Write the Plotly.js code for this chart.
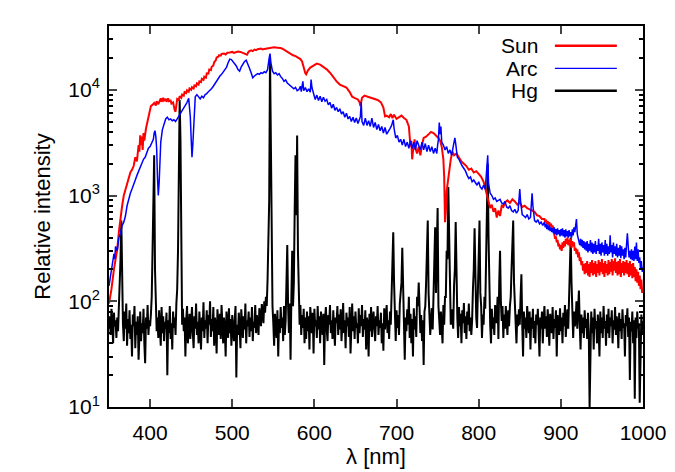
<!DOCTYPE html>
<html><head><meta charset="utf-8">
<script src="https://cdn.plot.ly/plotly-3.0.1.min.js"></script>
<style>html,body{margin:0;padding:0;background:#fff}#chart{width:675px;height:472px}</style>
</head><body><div id="chart"></div>
<script>
// Sun spectrum [wavelength nm, relative intensity]
const sun = [
[350,95],[353,130],[356,200],[358,240],[360,310],[362,450],[364,620],[366,800],[368,1000],[370,1150],
[372,1250],[374,1500],[376,1650],[378,1750],[380,1900],[382,2300],[384,2100],[386,3000],[387,2600],[388,3700],
[389,3000],[390,3600],[391,2700],[392,3900],[393,3300],[395,4300],[397,5200],[399,6300],[401,7000],[403,7200],
[405,7500],[407,7100],[408,7800],[410,7300],[411,7600],[413,8300],[414,7700],[416,8400],[417,7900],[419,8200],
[420,7700],[422,8300],[423,7800],[425,7900],[426,7400],[428,7600],[430,6400],[431,6200],[433,8200],[435,8000],
[436,8700],[438,8400],[439,9000],[441,8800],[442,9500],[444,9300],[445,9900],[447,9600],[448,10300],[450,10000],
[451,10600],[453,10300],[454,11000],[456,10800],[457,11500],[459,11200],[460,12000],[462,11800],[463,12700],[465,12400],
[466,13300],[468,13000],[469,14300],[471,14200],[472,15500],[474,15300],[475,16500],[477,17000],[478,18200],[480,19000],
[481,20200],[483,20500],[484,21200],[486,21000],[487,21800],[490,22000],[492,21600],[494,22400],[497,22500],[500,22800],
[502,22300],[504,22700],[507,23000],[510,22800],[513,22400],[516,21800],[518,21500],[520,23000],[523,23600],[525,23200],
[527,24000],[529,23700],[531,24200],[535,24500],[537,24100],[539,24300],[543,24700],[547,25000],[551,25200],[555,25000],
[559,24800],[562,24200],[565,23400],[568,22600],[571,21800],[574,21200],[577,20800],[580,20200],[583,19500],[585,18500],
[587,16000],[589,14300],[590,14000],[592,15200],[595,16200],[599,17000],[603,17700],[607,17300],[611,16500],[615,15600],
[619,14500],[623,13000],[627,12000],[631,11200],[635,10800],[639,10500],[643,9500],[646,8600],[650,8300],[653,8100],
[655,7600],[656,7000],[658,8400],[661,8800],[665,8600],[669,8400],[673,8300],[677,8000],[681,7600],[684,6800],
[686,5600],[688,5700],[691,5500],[693,5900],[695,5400],[697,5800],[700,5300],[703,5500],[706,5700],[709,5400],
[712,5200],[715,4500],[716,3600],[717,2900],[718,3300],[719,2200],[720,2600],[722,3400],[723,2800],[725,2500],
[727,2900],[729,2400],[731,3000],[733,3500],[736,3600],[739,3800],[742,4000],[745,3900],[748,3700],[751,3500],
[753,3300],[755,2900],[757,2200],[758,1500],[759,560],[760,700],[761,1100],[762,1300],[764,1600],[766,2200],
[768,2600],[770,2400],[773,2500],[776,2300],[779,2100],[782,2000],[785,1900],[788,1750],[791,1800],[794,1650],
[797,1700],[800,1600],[803,1500],[806,1350],[808,1150],[810,1000],[812,880],[814,760],[816,820],[818,700],
[820,760],[822,620],[824,720],[826,640],[828,800],[830,780],[832,860],[835,900],[838,850],[841,920],
[844,880],[847,820],[850,860],[853,780],[856,800],[859,760],[862,740],[865,720],[868,700],[871,650],
[874,640],[877,600],[880,600],[881,560],[882,590],[883,540],[884,570],[885,530],[886,560],[887,510],
[888,540],[889,500],[890,520],[891,470],[892,430],[893,390],[894,410],[895,360],[896,380],[897,330],
[898,350],[899,310],[900,340],[901,300],[902,360],[903,320],[904,370],[905,330],[906,390],[907,350],
[908,400],[909,340],[910,380],[911,330],[912,390],[913,320],[914,370],[915,330],[916,360],[917,300],
[918,320],[919,280],[920,310],[921,260],[922,290],[923,240],[924,260],[925,220],[926,240],[927,195],
[928,225],[929,180],[930,230],[931,185],[932,240],[933,175],[934,225],[935,170],[936,235],[937,185],
[938,245],[939,175],[940,230],[941,180],[942,240],[943,170],[944,225],[945,185],[946,245],[947,175],
[948,235],[949,190],[950,250],[951,180],[952,230],[953,170],[954,240],[955,185],[956,225],[957,175],
[958,245],[959,180],[960,235],[961,190],[962,250],[963,175],[964,240],[965,195],[966,255],[967,185],
[968,235],[969,175],[970,240],[971,180],[972,250],[973,170],[974,230],[975,185],[976,240],[977,175],
[978,235],[979,185],[980,245],[981,180],[982,230],[983,170],[984,240],[985,175],[986,225],[987,165],
[988,230],[989,170],[990,210],[991,155],[992,200],[993,150],[994,190],[995,140],[996,175],[997,130],
[998,160],[999,120],[1000,135]
];
// Arc lamp spectrum
const arc = [
[350,140],[352,180],[354,230],[356,280],[357,250],[358,330],[360,300],[362,400],[364,440],[366,520],
[368,560],[370,640],[372,800],[374,950],[376,1050],[378,1150],[380,1300],[382,1400],[384,1550],[386,1700],
[388,1850],[390,2000],[392,2200],[394,2300],[396,2600],[398,2800],[400,2900],[402,3100],[404,3400],[405,3900],
[406,4100],[407,3600],[408,2800],[409,1500],[410,1000],[411,1300],[412,2200],[413,3200],[415,4200],[417,4800],
[419,5300],[421,5500],[423,5200],[425,5300],[427,5100],[429,5200],[431,5000],[433,5300],[435,5600],[437,6000],
[439,6300],[441,6800],[443,7000],[445,7600],[447,8300],[448,7000],[449,5500],[450,3500],[451,2300],[452,3000],
[453,4500],[454,6500],[455,8600],[457,9000],[459,8500],[461,8200],[463,8700],[465,8400],[467,9000],[469,9200],
[471,9600],[473,9900],[475,10300],[477,10800],[479,11500],[481,12300],[483,13000],[485,13500],[487,14000],[489,14800],
[491,15500],[493,16300],[495,18000],[497,19500],[499,19300],[501,18500],[503,17500],[505,16800],[507,15500],[509,15000],
[511,16500],[513,17500],[515,18500],[517,19000],[519,17000],[521,16000],[523,14500],[525,13000],[527,13500],[529,13800],
[531,14200],[533,14000],[535,14500],[537,14300],[539,14800],[541,14500],[543,15500],[545,20000],[546,22000],[547,18000],
[549,15000],[551,14200],[553,14500],[555,13800],[557,14200],[559,13300],[561,12800],[563,12000],[565,12400],[567,11600],
[569,11200],[571,10800],[573,10600],[575,10200],[577,10500],[579,9800],[581,10000],[583,10800],[584,9600],[586,12000],
[587,9800],[589,10500],[591,9600],[593,10200],[595,9500],[596,12500],[597,10500],[599,9400],[601,8100],[603,8900],
[605,7900],[607,8700],[609,7700],[611,8500],[613,7800],[615,8100],[617,7200],[619,7600],[621,6700],[623,7300],
[625,6400],[627,6800],[629,6200],[631,6600],[633,5900],[635,6200],[637,5500],[639,6000],[641,5300],[643,5600],
[645,5000],[647,5500],[649,4900],[651,5400],[653,4800],[655,5300],[656,5600],[657,7600],[658,5000],[660,4600],
[662,5400],[664,4600],[666,5100],[668,4500],[670,5400],[672,4400],[674,4900],[676,4200],[678,4700],[680,4100],
[682,4500],[684,3900],[686,4400],[688,3800],[690,4000],[692,4300],[694,4600],[696,5200],[697,4300],[699,3500],
[701,3700],[703,3200],[705,3400],[707,3000],[709,3400],[711,2900],[713,3200],[715,2800],[717,3300],[719,2800],
[721,3200],[723,2700],[725,3300],[727,2900],[729,2700],[731,3200],[733,2700],[735,3100],[737,2600],[739,3000],
[741,2600],[743,2900],[745,2500],[747,2800],[749,2500],[750,3000],[751,3400],[752,4900],[753,3800],[754,4500],
[755,3200],[757,3000],[759,2700],[761,2900],[763,2500],[765,2700],[767,2400],[769,2900],[771,3500],[772,3100],
[774,2300],[776,2200],[778,2000],[780,1900],[782,1800],[784,1700],[786,1550],[788,1450],[790,1500],[792,1350],
[794,1400],[796,1300],[798,1250],[800,1350],[802,1200],[804,1150],[806,1250],[808,1150],[810,1700],[811,2400],
[812,1300],[814,1050],[816,1000],[818,920],[820,950],[822,880],[824,900],[826,920],[828,850],[830,830],
[832,880],[834,780],[836,760],[838,800],[840,720],[842,700],[844,740],[846,680],[848,720],[850,1150],
[851,880],[853,660],[855,640],[857,620],[859,660],[861,600],[863,620],[865,1050],[866,800],[868,580],
[870,560],[872,590],[874,540],[876,560],[878,520],[880,560],[881,500],[882,540],[883,480],[884,530],
[885,470],[886,520],[887,460],[888,500],[889,450],[890,490],[891,440],[892,500],[893,430],[894,480],
[895,420],[896,490],[897,430],[898,470],[899,410],[900,480],[901,420],[902,490],[903,410],[904,470],
[905,400],[906,480],[907,410],[908,460],[909,400],[910,470],[911,410],[912,450],[913,400],[914,480],
[915,420],[916,500],[917,450],[918,580],[919,600],[920,430],[921,400],[922,370],[923,340],[924,390],
[925,330],[926,380],[927,320],[928,370],[929,310],[930,360],[931,300],[932,370],[933,290],[934,350],
[935,300],[936,380],[937,290],[938,360],[939,280],[940,350],[941,290],[942,370],[943,280],[944,340],
[945,300],[946,390],[947,280],[948,350],[949,270],[950,360],[951,290],[952,340],[953,270],[954,380],
[955,280],[956,350],[957,270],[958,330],[959,280],[960,420],[961,290],[962,340],[963,260],[964,360],
[965,280],[966,330],[967,270],[968,350],[969,260],[970,320],[971,270],[972,340],[973,255],[974,330],
[975,270],[976,310],[977,250],[978,320],[979,260],[980,350],[981,440],[982,330],[983,260],[984,300],
[985,250],[986,310],[987,245],[988,300],[989,240],[990,330],[991,250],[992,360],[993,240],[994,310],
[995,230],[996,260],[997,200],[998,240],[999,190],[1000,210]
];
// Hg lamp spectrum
const hg = [
[350,55],[351,72],[352,48],[353,85],[354,62],[355,40],[356,78],[357,58],[358,66],[359,45],
[360,70],[361,52],[362,88],[363,130],[364,250],[365,580],[366,160],[367,60],[368,42],[369,80],
[370,55],[371,95],[372,38],[373,68],[374,50],[375,82],[376,44],[377,60],[378,30],[379,75],
[380,58],[381,90],[382,36],[383,64],[384,48],[385,72],[386,28],[387,66],[388,80],[389,42],
[390,62],[391,50],[392,85],[393,40],[394,26],[395,70],[396,55],[397,92],[398,48],[399,66],
[400,58],[401,75],[402,110],[403,300],[404,900],[405,2400],[406,200],[407,90],[408,52],[409,70],
[410,45],[411,82],[412,60],[413,38],[414,88],[415,50],[416,72],[417,42],[418,64],[419,55],
[420,78],[421,20],[422,66],[423,50],[424,90],[425,44],[426,62],[427,35],[428,80],[429,56],
[430,70],[431,48],[432,95],[433,130],[434,300],[435,1400],[436,8000],[437,3400],[438,180],[439,60],
[440,85],[441,52],[442,70],[443,30],[444,66],[445,90],[446,40],[447,58],[448,76],[449,44],
[450,62],[451,88],[452,50],[453,36],[454,72],[455,55],[456,95],[457,48],[458,64],[459,40],
[460,80],[461,58],[462,35],[463,70],[464,52],[465,98],[466,45],[467,66],[468,55],[469,82],
[470,40],[471,74],[472,60],[473,100],[474,46],[475,68],[476,52],[477,88],[478,38],[479,70],
[480,56],[481,32],[482,84],[483,62],[484,48],[485,76],[486,44],[487,92],[488,58],[489,40],
[490,70],[491,54],[492,30],[493,80],[494,62],[495,45],[496,86],[497,50],[498,68],[499,38],
[500,74],[501,58],[502,42],[503,66],[504,90],[505,19],[506,60],[507,48],[508,78],[509,55],
[510,36],[511,84],[512,62],[513,45],[514,72],[515,54],[516,95],[517,40],[518,66],[519,58],
[520,80],[521,46],[522,70],[523,52],[524,88],[525,42],[526,64],[527,56],[528,92],[529,50],
[530,74],[531,60],[532,48],[533,86],[534,66],[535,58],[536,94],[537,70],[538,62],[539,100],
[540,78],[541,110],[542,90],[543,160],[544,300],[545,900],[546,21000],[547,2800],[548,200],[549,90],
[550,62],[551,38],[552,76],[553,54],[554,45],[555,82],[556,30],[557,68],[558,50],[559,88],
[560,56],[561,70],[562,42],[563,90],[564,48],[565,66],[566,120],[567,340],[568,90],[569,50],
[570,95],[571,28],[572,110],[573,300],[574,90],[575,150],[576,700],[577,2400],[578,650],[579,3700],
[580,300],[581,110],[582,60],[583,92],[584,48],[585,74],[586,56],[587,85],[588,40],[589,70],
[590,44],[591,80],[592,52],[593,72],[594,35],[595,88],[596,62],[597,50],[598,78],[599,32],
[600,85],[601,58],[602,66],[603,45],[604,90],[605,54],[606,72],[607,40],[608,80],[609,62],
[610,48],[611,76],[612,25],[613,68],[614,88],[615,55],[616,42],[617,74],[618,60],[619,92],
[620,50],[621,66],[622,44],[623,82],[624,56],[625,38],[626,70],[627,62],[628,90],[629,48],
[630,75],[631,54],[632,84],[633,42],[634,60],[635,96],[636,50],[637,66],[638,36],[639,78],
[640,58],[641,70],[642,46],[643,88],[644,32],[645,64],[646,95],[647,52],[648,72],[649,44],
[650,80],[651,56],[652,62],[653,40],[654,86],[655,50],[656,74],[657,58],[658,92],[659,46],
[660,68],[661,54],[662,82],[663,35],[664,70],[665,60],[666,30],[667,76],[668,52],[669,88],
[670,46],[671,64],[672,80],[673,55],[674,42],[675,72],[676,58],[677,90],[678,48],[679,66],
[680,56],[681,78],[682,40],[683,62],[684,34],[685,86],[686,54],[687,70],[688,92],[689,50],
[690,66],[691,44],[692,80],[693,60],[694,110],[695,200],[696,450],[697,150],[698,70],[699,42],
[700,82],[701,56],[702,74],[703,48],[704,95],[705,140],[706,150],[707,320],[708,110],[709,38],
[710,28],[711,70],[712,52],[713,84],[714,60],[715,110],[716,45],[717,76],[718,40],[719,68],
[720,30],[721,86],[722,54],[723,72],[724,46],[725,110],[726,90],[727,150],[728,60],[729,50],
[730,74],[731,42],[732,66],[733,25],[734,80],[735,90],[736,150],[737,300],[738,580],[739,120],
[740,75],[741,48],[742,66],[743,86],[744,54],[745,110],[746,150],[747,500],[748,120],[749,300],
[750,760],[751,90],[752,62],[753,48],[754,80],[755,56],[756,40],[757,92],[758,60],[759,110],
[760,110],[761,300],[762,250],[763,1200],[764,300],[765,95],[766,60],[767,84],[768,70],[769,55],
[770,140],[771,200],[772,560],[773,150],[774,70],[775,45],[776,88],[777,58],[778,76],[779,40],
[780,82],[781,62],[782,96],[783,50],[784,72],[785,44],[786,80],[787,60],[788,95],[789,52],
[790,70],[791,48],[792,66],[793,130],[794,200],[795,490],[796,120],[797,70],[798,56],[799,150],
[800,300],[801,580],[802,120],[803,90],[804,45],[805,75],[806,60],[807,110],[808,85],[809,300],
[810,800],[811,2000],[812,400],[813,130],[814,60],[815,40],[816,85],[817,55],[818,70],[819,48],
[820,92],[821,62],[822,70],[823,110],[824,44],[825,150],[826,300],[827,100],[828,65],[829,90],
[830,45],[831,75],[832,55],[833,90],[834,62],[835,48],[836,82],[837,58],[838,90],[839,110],
[840,200],[841,380],[842,580],[843,150],[844,95],[845,60],[846,40],[847,75],[848,58],[849,84],
[850,60],[851,110],[852,180],[853,60],[854,30],[855,80],[856,55],[857,70],[858,45],[859,90],
[860,60],[861,50],[862,80],[863,35],[864,70],[865,55],[866,85],[867,45],[868,65],[869,40],
[870,75],[871,60],[872,85],[873,50],[874,30],[875,70],[876,55],[877,80],[878,40],[879,65],
[880,90],[881,55],[882,72],[883,46],[884,84],[885,58],[886,38],[887,76],[888,62],[889,50],
[890,88],[891,44],[892,68],[893,56],[894,82],[895,30],[896,74],[897,60],[898,48],[899,86],
[900,52],[901,70],[902,40],[903,78],[904,58],[905,92],[906,46],[907,66],[908,84],[909,55],
[910,120],[911,220],[912,400],[913,150],[914,70],[915,45],[916,80],[917,58],[918,66],[919,100],
[920,55],[921,90],[922,126],[923,60],[924,35],[925,75],[926,50],[927,70],[928,45],[929,82],
[930,56],[931,68],[932,44],[933,78],[934,52],[935,10],[936,60],[937,80],[938,50],[939,70],
[940,35],[941,85],[942,55],[943,65],[944,40],[945,75],[946,55],[947,30],[948,80],[949,50],
[950,70],[951,45],[952,90],[953,55],[954,65],[955,38],[956,75],[957,50],[958,85],[959,45],
[960,70],[961,58],[962,82],[963,40],[964,66],[965,54],[966,88],[967,48],[968,72],[969,60],
[970,36],[971,78],[972,52],[973,68],[974,44],[975,84],[976,56],[977,62],[978,30],[979,74],
[980,58],[981,86],[982,46],[983,70],[984,18],[985,64],[986,52],[987,80],[988,40],[989,66],
[990,12],[991,70],[992,45],[993,80],[994,55],[995,62],[996,11],[997,55],[998,75],[999,48],
[1000,65]
];
const seriesNames = ['Sun','Arc','Hg'];
const xTickVals = [400,500,600,700,800,900,1000];
const yTickVals = [10,100,1000,10000];
const yTickText = ['10<sup>1</sup>','10<sup>2</sup>','10<sup>3</sup>','10<sup>4</sup>'];

const colors = {Sun:'#ff0000', Arc:'#0000ff', Hg:'#000000'};
const widths = {Sun:2, Arc:1.5, Hg:2};
const dataSets = {Sun:sun, Arc:arc, Hg:hg};
const order = ['Hg','Sun','Arc'];
const traces = order.map(n => ({
  type:'scatter', mode:'lines', name:n,
  x: dataSets[n].map(p=>p[0]), y: dataSets[n].map(p=>p[1]),
  line:{color:colors[n], width:widths[n]}, showlegend:false, hoverinfo:'skip'
}));

const minorVals = [];
[10,100,1000,10000].forEach(d => { for (let k=2;k<=9;k++) minorVals.push(k*d); });

const family = 'Liberation Sans, Arial, sans-serif';
const tickFont = {family:family, size:21, color:'#000'};
const titleFont = {family:family, size:22, color:'#000'};
// manual legend (text left of the sample line)
const legY = [0.948, 0.889, 0.830];
const annotations = seriesNames.map((n,i)=>({
  xref:'paper', yref:'paper', x:0.808, y:legY[i], text:n, showarrow:false,
  xanchor:'right', yanchor:'middle', font:{family:family, size:21, color:'#000'}
}));
const shapes = seriesNames.map((n,i)=>({
  type:'line', xref:'paper', yref:'paper', x0:0.835, x1:0.951, y0:legY[i], y1:legY[i],
  line:{color:colors[n], width: n==='Arc'?1.3:2.5}
}));

const layout = {
  width:675, height:472,
  margin:{l:109, r:32, t:26, b:65},
  paper_bgcolor:'#fff', plot_bgcolor:'#fff',
  font:tickFont,
  xaxis:{range:[350,1000], tickvals:xTickVals, ticks:'inside', ticklen:8, tickwidth:2,
    showline:true, linewidth:2, linecolor:'#000', mirror:'ticks', showgrid:false, zeroline:false,
    ticklabelstandoff:6,
    title:{text:'λ [nm]', font:titleFont, standoff:4}, tickfont:tickFont},
  yaxis:{type:'log', range:[1,4.603], tickvals:yTickVals, ticktext:yTickText, ticks:'inside', ticklen:8, tickwidth:2,
    showline:true, linewidth:2, linecolor:'#000', mirror:'ticks', showgrid:false, zeroline:false,
    ticklabelstandoff:3,
    minor:{tickvals:minorVals, ticks:'inside', ticklen:4, tickwidth:2, tickcolor:'#000', showgrid:false},
    title:{text:'Relative intensity', font:titleFont, standoff:12}, tickfont:tickFont},
  annotations:annotations, shapes:shapes
};
Plotly.newPlot('chart', traces, layout, {displayModeBar:false, staticPlot:true});
</script></body></html>
